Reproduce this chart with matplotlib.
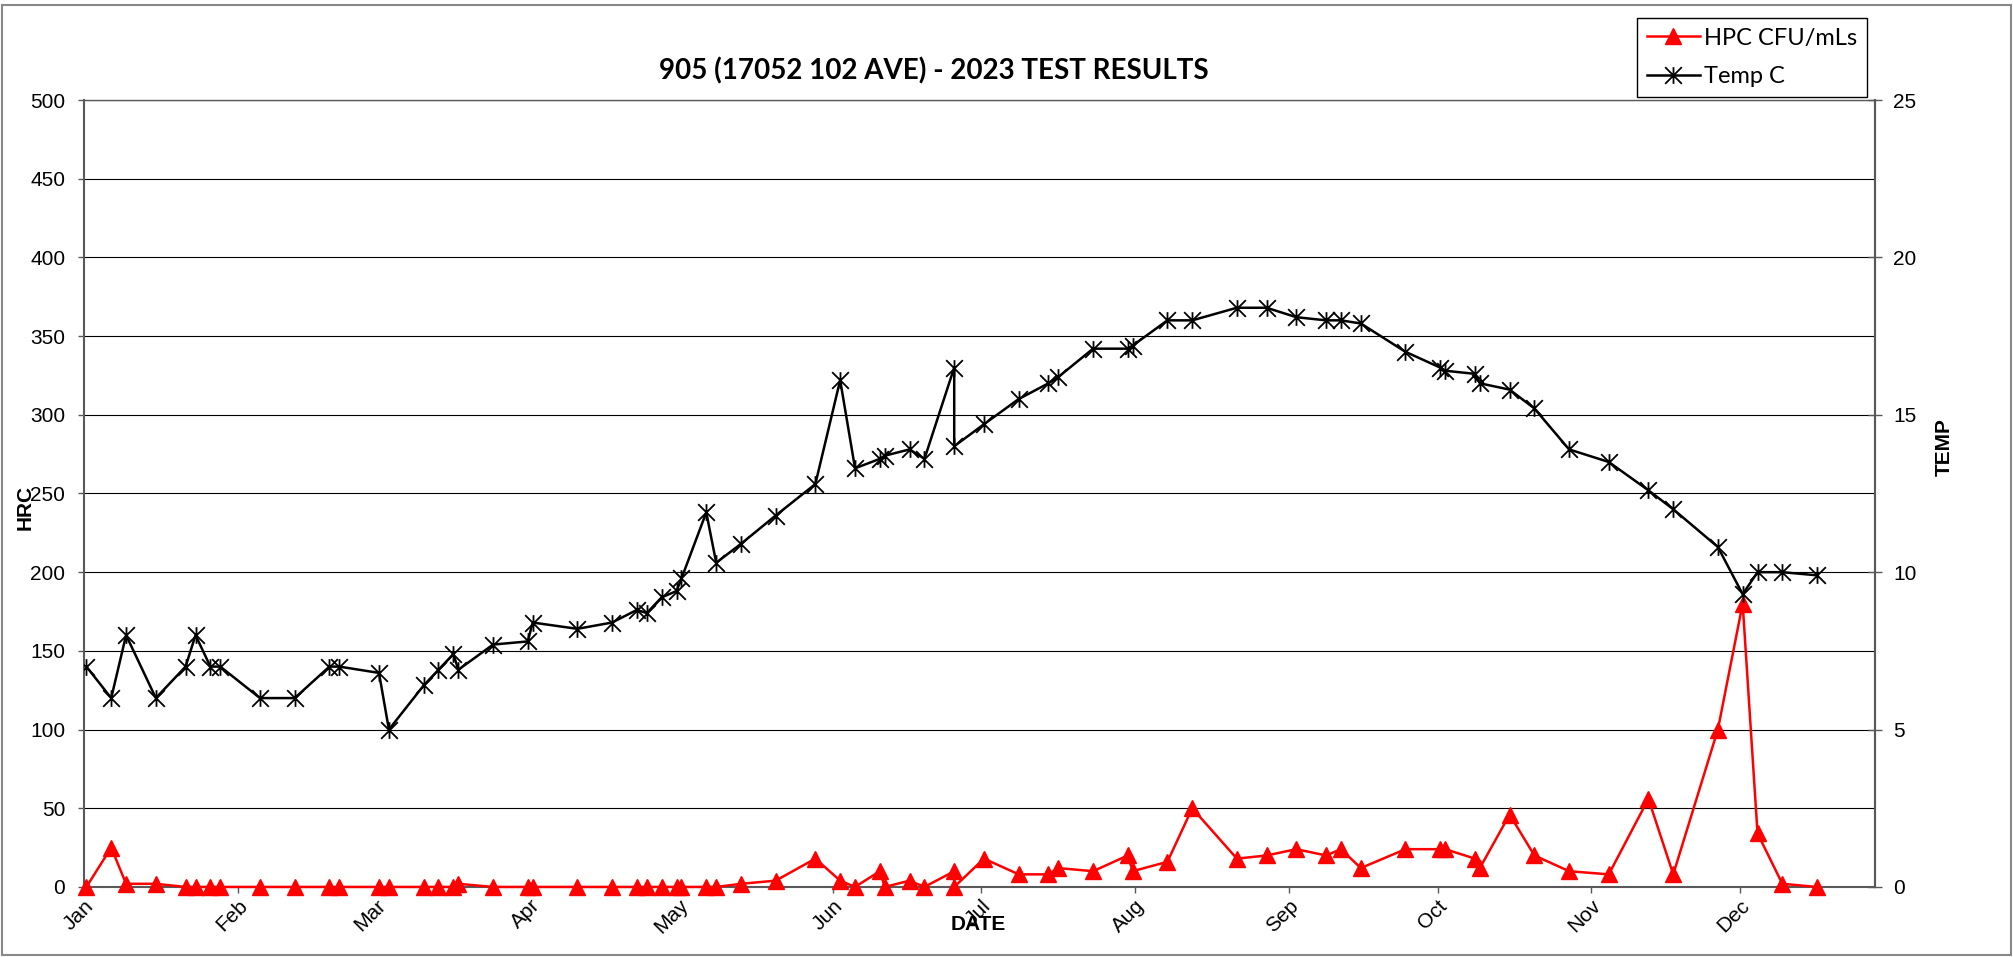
import pandas as pd
import matplotlib
matplotlib.use("Agg")
from matplotlib import pyplot as plt
import matplotlib.dates as mdates
from matplotlib.path import Path
from matplotlib.patches import Rectangle
from datetime import datetime

# test dates (2023) with HPC counts and water temperature
dates = ['2023-01-01', '2023-01-06', '2023-01-09', '2023-01-15', '2023-01-21', '2023-01-23',
         '2023-01-26', '2023-01-28', '2023-02-05', '2023-02-12', '2023-02-19', '2023-02-21',
         '2023-03-01', '2023-03-03', '2023-03-10', '2023-03-13', '2023-03-16', '2023-03-17',
         '2023-03-24', '2023-03-31', '2023-04-01', '2023-04-10', '2023-04-17', '2023-04-22',
         '2023-04-24', '2023-04-27', '2023-04-30', '2023-05-01', '2023-05-06', '2023-05-08',
         '2023-05-13', '2023-05-20', '2023-05-28', '2023-06-02', '2023-06-05', '2023-06-10',
         '2023-06-11', '2023-06-16', '2023-06-19', '2023-06-25', '2023-06-25', '2023-07-01',
         '2023-07-08', '2023-07-14', '2023-07-16', '2023-07-23', '2023-07-30', '2023-07-31',
         '2023-08-07', '2023-08-12', '2023-08-21', '2023-08-27', '2023-09-02', '2023-09-08',
         '2023-09-11', '2023-09-15', '2023-09-24', '2023-10-01', '2023-10-02', '2023-10-08',
         '2023-10-09', '2023-10-15', '2023-10-20', '2023-10-27', '2023-11-04', '2023-11-12',
         '2023-11-17', '2023-11-26', '2023-12-01', '2023-12-04', '2023-12-09', '2023-12-16']

hpc = [0, 25, 2, 2, 0, 0,
       0, 0, 0, 0, 0, 0,
       0, 0, 0, 0, 0, 2,
       0, 0, 0, 0, 0, 0,
       0, 0, 0, 0, 0, 0,
       2, 4, 18, 4, 0, 10,
       0, 4, 0, 10, 0, 18,
       8, 8, 12, 10, 20, 10,
       16, 50, 18, 20, 24, 20,
       24, 12, 24, 24, 24, 18,
       12, 46, 20, 10, 8, 56,
       8, 100, 180, 34, 2, 0]

temp_c = [7.0, 6.0, 8.0, 6.0, 7.0, 8.0,
          7.0, 7.0, 6.0, 6.0, 7.0, 7.0,
          6.8, 5.0, 6.4, 6.9, 7.4, 6.9,
          7.7, 7.8, 8.4, 8.2, 8.4, 8.8,
          8.7, 9.2, 9.4, 9.8, 11.9, 10.3,
          10.9, 11.8, 12.8, 16.1, 13.3, 13.6,
          13.7, 13.9, 13.6, 16.5, 14.0, 14.7,
          15.5, 16.0, 16.2, 17.1, 17.1, 17.2,
          18.0, 18.0, 18.4, 18.4, 18.1, 18.0,
          18.0, 17.9, 17.0, 16.5, 16.4, 16.3,
          16.0, 15.8, 15.2, 13.9, 13.5, 12.6,
          12.0, 10.8, 9.3, 10.0, 10.0, 9.9]


def main():
    plotResults()


def plotResults():
    plt.rcParams['font.family'] = 'Liberation Sans'
    plt.rcParams['xtick.labelsize'] = 15
    plt.rcParams['ytick.labelsize'] = 15

    fig = plt.figure(figsize=(20.13, 9.57), dpi=100)
    ax = fig.add_axes([0.0417, 0.0732, 0.8898, 0.8223])
    ax2 = ax.twinx()

    # excel puts each point in the middle of its day
    x = pd.to_datetime(dates) + pd.Timedelta(hours=12)

    star = Path([(-1, -1), (1, 1), (-1, 1), (1, -1), (0, -1), (0, 1)],
                [Path.MOVETO, Path.LINETO] * 3)

    l1, = ax.plot(x, hpc, color='red', marker='^', markersize=12, linewidth=1.8,
                  clip_on=False, zorder=3, label='HPC CFU/mLs')
    l2, = ax2.plot(x, temp_c, color='black', marker=star, markersize=12,
                   markerfacecolor='none', markeredgewidth=1.3, linewidth=1.8,
                   label='Temp C')

    ax.set_ylim([0, 500])
    ax.set_yticks(range(0, 501, 50))
    ax2.set_ylim([0, 25])
    ax2.set_yticks(range(0, 26, 5))
    ax.set_xlim([datetime(2023, 1, 1), datetime(2023, 12, 28, 5)])
    ax.xaxis.set_major_locator(mdates.MonthLocator())
    ax.xaxis.set_major_formatter(mdates.DateFormatter('%b'))

    ax.yaxis.grid(True, color='black', linewidth=0.8)
    ax.set_axisbelow(True)

    spine_col = '#595959'
    for a in (ax, ax2):
        for s in a.spines.values():
            s.set_color(spine_col)
            s.set_linewidth(1.5)
    ax.spines['top'].set_linewidth(1.0)
    ax2.spines['top'].set_visible(False)
    ax2.spines['bottom'].set_visible(False)
    ax2.spines['left'].set_visible(False)

    ax.tick_params(axis='y', direction='out', length=4.5, width=1, color=spine_col, pad=9)
    ax.tick_params(axis='x', direction='out', length=4.5, width=1, color=spine_col, pad=2,
                   labelrotation=45)
    ax2.tick_params(axis='y', direction='inout', length=10, width=1, color=spine_col, pad=8)
    for lab in ax.get_xticklabels():
        lab.set_ha('right')
        lab.set_rotation_mode('anchor')

    fig.text(0.464, 0.926, '905 (17052 102 AVE) - 2023 TEST RESULTS', ha='center', va='center',
             fontsize=20, fontweight='bold', family='Lato')
    fig.text(0.0125, 0.470, 'HRC', rotation=90, ha='center', va='center',
             fontsize=15, fontweight='bold')
    fig.text(0.966, 0.533, 'TEMP', rotation=90, ha='center', va='center',
             fontsize=15, fontweight='bold')
    fig.text(0.486, 0.034, 'DATE', ha='center', va='center',
             fontsize=15, fontweight='bold')

    leg = fig.legend(handles=[l1, l2], loc='upper right', bbox_to_anchor=(0.9275, 0.981),
                     bbox_transform=fig.transFigure, fancybox=False, framealpha=1,
                     edgecolor='black', prop={'family': 'Lato', 'size': 17},
                     handlelength=2.25, borderpad=0.4, labelspacing=0.75,
                     handletextpad=0.2, borderaxespad=0)
    leg.get_frame().set_linewidth(1.0)

    fig.patches.append(Rectangle((0.001, 0.002), 0.998, 0.993, transform=fig.transFigure,
                                 fill=False, edgecolor='#888888', linewidth=1.5))

    fig.savefig('out.png', dpi=100)
    fig.clf()


if __name__ == "__main__":
    main()
